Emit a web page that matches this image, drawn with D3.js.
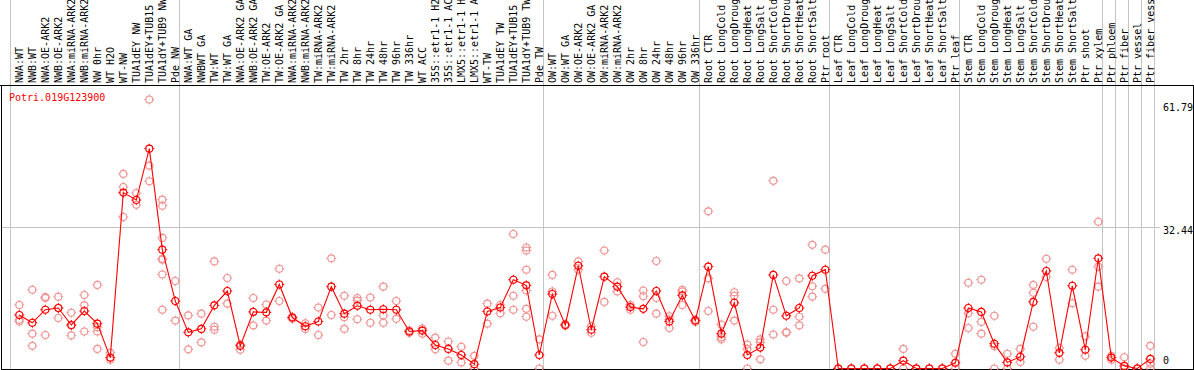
<!DOCTYPE html>
<html>
<head>
<meta charset="utf-8">
<script src="https://cdn.jsdelivr.net/npm/d3@7"></script>
<style>
  body { margin: 0; background: #fff; }
  svg { display: block; }
  text { font-family: "DejaVu Sans Mono", monospace; font-size: 10px; }
</style>
</head>
<body>
<div id="chart"></div>
<script>
const geneId = "Potri.019G123900";

const samples = [
  "NWA:WT", "NWB:WT", "NWA:OE-ARK2", "NWB:OE-ARK2", "NWA:miRNA-ARK2", "NWB:miRNA-ARK2",
  "NW 0hr", "WT H2O", "WT-NW", "TUA1dEY NW", "TUA1dEY+TUB15", "TUA1dY+TUB9 NW", "Pde NW",
  "NWA:WT GA", "NWBWT GA", "TW:WT", "TW:WT GA", "NWA:OE-ARK2 GA", "NWB:OE-ARK2 GA",
  "TW:OE-ARK2", "TW:OE-ARK2 GA", "NWA:miRNA-ARK2 GA", "NWB:miRNA-ARK2 GA", "TW:miRNA-ARK2",
  "TW:miRNA-ARK2", "TW 2hr", "TW 8hr", "TW 24hr", "TW 48hr", "TW 96hr", "TW 336hr", "WT ACC",
  "35S::etr1-1 H2O", "35S::etr1-1 ACC", "LMX5::etr1-1 H2O", "LMX5::etr1-1 ACC", "WT-TW",
  "TUA1dEY TW", "TUA1dEY+TUB15", "TUA1dY+TUB9 TW", "Pde TW",
  "OW:WT", "OW:WT GA", "OW:OE-ARK2", "OW:OE-ARK2 GA", "OW:miRNA-ARK2", "OW:miRNA-ARK2",
  "OW 2hr", "OW 8hr", "OW 24hr", "OW 48hr", "OW 96hr", "OW 336hr",
  "Root CTR", "Root LongCold", "Root LongDrought", "Root LongHeat", "Root LongSalt",
  "Root ShortCold", "Root ShortDrought", "Root ShortHeat", "Root ShortSalt", "Ptr root",
  "Leaf CTR", "Leaf LongCold", "Leaf LongDrought", "Leaf LongHeat", "Leaf LongSalt",
  "Leaf ShortCold", "Leaf ShortDrought", "Leaf ShortHeat", "Leaf ShortSalt", "Ptr leaf",
  "Stem CTR", "Stem LongCold", "Stem LongDrought", "Stem LongHeat", "Stem LongSalt",
  "Stem ShortCold", "Stem ShortDrought", "Stem ShortHeat", "Stem ShortSalt", "Ptr shoot",
  "Ptr xylem", "Ptr phloem", "Ptr fiber", "Ptr vessel", "Ptr fiber vessel"
];

const means = [
  12.3, 10.5, 13.5, 13.9, 10.0, 13.2, 10.3, 2.5, 40.4, 38.7, 50.5, 27.3, 15.5,
  8.3, 9.1, 14.5, 17.8, 5.2, 13.0, 12.9, 19.3, 11.7, 9.7, 10.8, 18.8, 12.6, 14.4,
  13.5, 13.6, 13.5, 8.5, 8.7, 5.4, 4.5, 3.1, 1.0, 13.1, 14.0, 20.4, 19.1, 3.1,
  17.1, 10.0, 23.6, 8.9, 21.1, 18.8, 14.1, 13.7, 17.8, 10.8, 16.8, 11.0,
  23.4, 8.0, 15.1, 3.1, 4.8, 21.5, 12.1, 13.9, 21.3, 22.7,
  0, 0, 0, 0, 0, 1.8, 0, 0, 0, 1.3,
  13.9, 13.0, 5.7, 1.4, 2.7, 15.3, 22.4, 3.6, 19.0, 4.3, 25.3,
  2.5, 0.6, 0, 2.2
];

const replicates = [
  [14.6, 11.2, 10.8], [18.1, 8.0, 5.2], [16.4, 16.2, 7.7], [16.5, 11.6, 13.9],
  [12.8, 9.9, 7.6], [16.9, 14.5, 8.5], [19.2, 9.5, 8.5, 4.5], [3.6, 2.0],
  [44.7, 41.7, 34.8], [40.3, 37.6], [46.6, 43.0, 61.79],
  [38.8, 37.4, 30.0, 25.2, 25.0, 21.6, 13.5], [20.1, 11.0],
  [12.2, 4.4], [12.6, 6.0], [24.6, 9.6, 8.9], [20.8, 14.9], [5.5, 4.3],
  [16.2, 9.9], [14.7, 11.0], [22.9, 15.5], [11.9, 11.4], [10.4, 9.1],
  [14.0, 7.7], [25.3, 12.3], [16.7, 11.8, 9.1], [16.2, 15.6, 11.3], [16.3, 10.5],
  [18.8, 12.2, 10.5], [15.5, 11.4], [8.7, 8.2], [9.2, 8.0], [7.1, 4.4],
  [6.2, 1.8], [5.0, 1.4], [2.9, 0], [14.9, 10.3], [14.6, 12.7],
  [30.9, 16.7, 13.5], [27.8, 27.1, 22.7, 17.9, 13.7, 11.9], [6.7, 0],
  [21.5, 17.7, 12.1], [10.2, 9.8], [24.6, 22.7], [9.7, 8.2], [27.1, 15.3],
  [19.8, 17.7], [14.6, 13.5], [17.9, 16.6, 6.1], [24.7, 16.2, 12.6],
  [12.0, 11.3, 9.3], [18.1, 17.7, 14.6], [11.2, 10.7],
  [36.1, 20.7, 13.2], [10.1, 7.2, 6.7], [17.5, 16.7, 11.0], [5.5, 4.5, 0],
  [6.7, 6.0, 2.1], [43.1, 13.5, 7.8], [20.1, 8.4, 8.2], [20.7, 11.9, 9.9],
  [28.4, 18.9, 16.5], [27.3, 18.3],
  [0, 0], [0, 0], [0, 0], [0, 0], [0, 0], [4.5, 0], [0, 0], [0, 0], [0, 0], [3.4, 0],
  [19.7, 12.7, 9.3], [20.4, 10.7, 8.0], [12.1, 5.1, 0], [3.4, 0], [4.5, 1.5],
  [19.2, 17.4, 9.6], [25.2, 21.0], [4.7, 2.0], [22.7, 15.0], [7.4, 2.9],
  [33.7, 23.4, 18.8], [2.9, 2.0], [2.6, 0], [0, 0], [5.2, 1.1, 0]
];

// indexes of the first sample of each group (gray separators)
const groupStarts = [0, 13, 41, 53, 63, 73, 84, 85, 86, 87, 88];
const axisTicks = [0, 32.44, 61.79];

const width = 1194, height = 370;
const colW = 13, plotLeft = 11, dotOffset = 8.3;
const labelBottom = 83, headerY = 85, plotBottom = 369, rightEdge = 1193;
const r = 3.5;

const svg = d3.select("#chart").append("svg")
  .attr("width", width)
  .attr("height", height);

const x = d3.scaleBand()
  .domain(d3.range(samples.length))
  .range([plotLeft, plotLeft + colW * samples.length])
  .padding(0);

const y = d3.scaleLinear()
  .domain([0, 61.79])
  .range([368.5, 99.5]);

const cx = function(i) { return x(i) + dotOffset; };

// horizontal grid at middle tick
svg.append("line")
  .attr("x1", 1).attr("x2", 1160)
  .attr("y1", Math.round(y(32.44)) + 0.5).attr("y2", Math.round(y(32.44)) + 0.5)
  .attr("stroke", "#c4c4c4");

// group separators
svg.selectAll(".sep")
  .data(groupStarts)
  .join("line")
    .attr("class", "sep")
    .attr("x1", function(d) { return Math.round(plotLeft + colW * d) - 0.5; })
    .attr("x2", function(d) { return Math.round(plotLeft + colW * d) - 0.5; })
    .attr("y1", 0).attr("y2", plotBottom)
    .attr("stroke", "#c4c4c4");

// frame
svg.append("line").attr("x1", 0).attr("x2", rightEdge + 1)
  .attr("y1", headerY + 0.5).attr("y2", headerY + 0.5).attr("stroke", "#000");
svg.append("line").attr("x1", 1.5).attr("x2", 1.5)
  .attr("y1", headerY).attr("y2", plotBottom + 1).attr("stroke", "#000");
svg.append("line").attr("x1", rightEdge + 0.5).attr("x2", rightEdge + 0.5)
  .attr("y1", headerY).attr("y2", plotBottom + 1).attr("stroke", "#000");
svg.append("line").attr("x1", 1).attr("x2", rightEdge + 1)
  .attr("y1", plotBottom + 0.5).attr("y2", plotBottom + 0.5).attr("stroke", "#000");

// sample labels, read bottom to top
svg.selectAll(".label")
  .data(samples)
  .join("text")
    .attr("class", "label")
    .attr("text-anchor", "start")
    .attr("transform", function(d, i) {
      return "translate(" + (cx(i) + 3.5) + "," + labelBottom + ") rotate(-90)";
    })
    .attr("fill", "#000")
    .text(function(d) { return d; });

// axis values
svg.selectAll(".tick-label")
  .data(axisTicks)
  .join("text")
    .attr("class", "tick-label")
    .attr("x", 1163)
    .attr("y", function(d, i) {
      if (i === 0) return y(d) - 4.5;
      if (i === 1) return y(d) + 7;
      return y(d) + 11;
    })
    .attr("fill", "#000")
    .text(function(d) { return d; });

svg.append("text")
  .attr("x", 9)
  .attr("y", 100.5)
  .attr("fill", "#ff0000")
  .text(geneId);

const plot = svg.append("g");

var marker = function(sel, color) {
  sel.append("circle")
    .attr("r", r)
    .attr("fill", "none")
    .attr("stroke", color)
    .attr("stroke-width", 1.1);
  sel.append("path")
    .attr("d", "M0," + (-r - 1.5) + "V" + (-r + 0.5) +
               "M0," + (r - 0.5) + "V" + (r + 1.5) +
               "M" + (-r - 1.5) + ",0H" + (-r + 0.5) +
               "M" + (r - 0.5) + ",0H" + (r + 1.5))
    .attr("stroke", color)
    .attr("stroke-width", 1);
};

// replicate points
const reps = [];
replicates.forEach(function(list, i) {
  list.forEach(function(v) { reps.push({i: i, v: v}); });
});

plot.selectAll(".rep")
  .data(reps)
  .join("g")
    .attr("class", "rep")
    .attr("transform", function(d) { return "translate(" + cx(d.i) + "," + y(d.v) + ")"; })
    .call(marker, "#f09494");

// mean line
const line = d3.line()
  .x(function(d, i) { return cx(i); })
  .y(function(d) { return y(d); });

plot.append("path")
  .attr("fill", "none")
  .attr("stroke", "#ff0000")
  .attr("stroke-width", 1.1)
  .attr("d", line(means));

plot.selectAll(".mean")
  .data(means)
  .join("g")
    .attr("class", "mean")
    .attr("transform", function(d, i) { return "translate(" + cx(i) + "," + y(d) + ")"; })
    .call(marker, "#ff0000");
</script>
</body>
</html>
